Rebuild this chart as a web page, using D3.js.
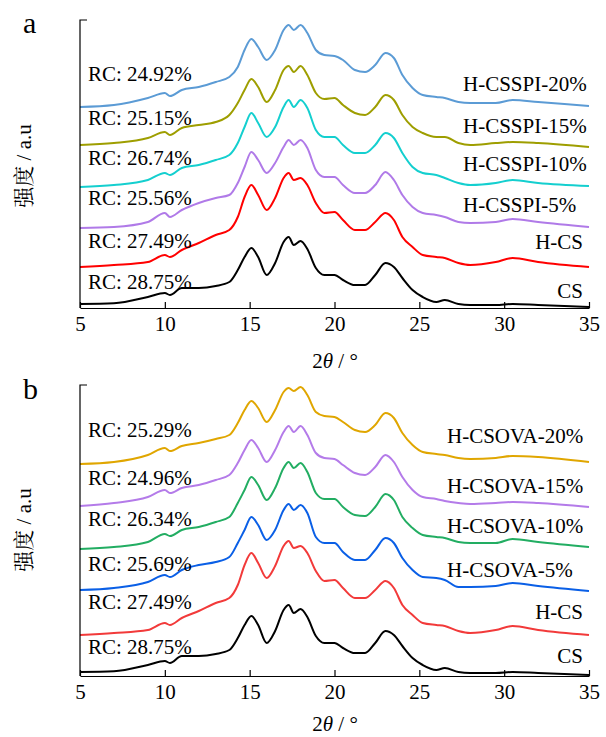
<!DOCTYPE html>
<html><head><meta charset="utf-8">
<script src="https://cdn.jsdelivr.net/npm/d3@7"></script>
<style>
body{margin:0;background:#fff}
svg text{font-family:"Liberation Serif","Noto Serif CJK SC","Tinos",serif;fill:#000}
</style>
</head><body>
<svg id="c" width="606" height="737"></svg>
<script>
// 2θ sampling positions (degrees)
const twoTheta = [5,7,9,10,10.3,11,12,13,13.8,14.3,14.7,15.1,15.5,16,16.5,17,17.3,17.6,18,18.4,18.9,19.4,20,20.5,21.2,21.8,22.4,23,23.5,24,24.6,25.2,26,26.5,27.3,28,29.5,30.5,32,35];

// intensities (a.u., stacked) — panel a
const cs    = [4,4.7,11,15,13,20,20,22,26,38,51,60,51,33,45,66,71,63,67,59,40,33,33,28,23,23,33,45,41,30,18,11,6,8,4,3,3,4,3,1];
const hcs   = [41,43,46,53,51,58,65,73,78,91,111,123,113,98,110,130,135,128,130,123,105,95,96,88,78,78,86,95,88,71,61,53,51,50,45,43,46,50,46,41];
const spi5  = [80,81,86,95,91,98,105,110,113,125,141,156,148,135,145,161,168,163,168,160,138,131,131,123,115,115,123,136,128,113,101,95,93,91,86,85,86,89,86,81];
const spi10 = [121,123,128,135,133,140,143,148,153,165,181,195,185,171,181,201,208,201,208,200,178,171,171,163,155,155,163,175,170,155,141,135,133,130,125,123,125,128,125,122];
const spi15 = [163,165,170,176,173,180,183,186,193,205,218,229,221,206,218,238,242,236,242,233,215,209,210,203,195,193,201,213,208,193,181,175,171,171,165,163,165,166,165,161];
const spi20 = [201,203,210,215,212,218,221,226,231,241,258,269,261,248,258,278,283,278,283,275,258,253,252,248,238,236,243,255,250,233,220,213,211,210,206,205,205,208,206,202];

// panel b
const ova5  = [86,88,94,101,99,106,111,114,119,133,146,159,151,136,146,166,172,166,171,163,139,133,133,124,116,116,126,138,133,118,106,99,98,96,89,89,90,93,90,85];
const ova10 = [127,129,134,142,140,146,149,154,159,173,186,199,191,176,188,208,214,208,213,204,183,177,177,169,161,160,169,182,176,159,148,141,139,138,134,133,133,137,134,129];
const ova15 = [170,173,179,186,183,188,191,196,201,213,226,236,228,214,226,244,250,244,250,241,223,218,217,211,203,201,209,221,214,199,186,179,177,175,173,172,173,174,173,169];
const ova20 = [212,214,221,228,225,230,233,237,241,253,266,275,268,254,266,284,288,285,289,281,264,260,259,254,246,244,251,263,258,243,231,224,222,221,218,217,218,220,219,214];

const namesA = ["CS","H-CS","H-CSSPI-5%","H-CSSPI-10%","H-CSSPI-15%","H-CSSPI-20%"];
const rcA    = ["28.75%","27.49%","25.56%","26.74%","25.15%","24.92%"];
const namesB = ["CS","H-CS","H-CSOVA-5%","H-CSOVA-10%","H-CSOVA-15%","H-CSOVA-20%"];
const rcB    = ["28.75%","27.49%","25.69%","26.34%","24.96%","25.29%"];
const xTicks = [5,10,15,20,25,30,35];

const colorsA = ["#000000","#ff0000","#b07ae8","#14cfcf","#9e9e00","#5b9bd5"];
const colorsB = ["#000000","#f23a3a","#0a5fe6","#22ad62","#b47be9","#e0a600"];

const svg = d3.select("#c");

const panels = [
  {letter:"a", series:[cs,hcs,spi5,spi10,spi15,spi20], names:namesA, rc:rcA, colors:colorsA,
   top:20, axisY:308, yMax:288, letterY:33, ytitleY:166, xtitleY:368,
   rcY:[289,248,205,165,125,81], lblY:[298,249,212,171,133,91], longX:463},
  {letter:"b", series:[cs,hcs,ova5,ova10,ova15,ova20], names:namesB, rc:rcB, colors:colorsB,
   top:385, axisY:676, yMax:291, letterY:399, ytitleY:530, xtitleY:731,
   rcY:[654,609,571,526,485,437], lblY:[663,619,577,533,493,443], longX:447}
];

const L = 80, R = 589;
const x = d3.scaleLinear().domain([5,35]).range([L,R]);

panels.forEach(p => {
  const y = d3.scaleLinear().domain([0,p.yMax]).range([p.axisY,p.top]);
  const g = svg.append("g");
  const line = d3.line().x((d,i)=>x(twoTheta[i])).y(d=>y(d)).curve(d3.curveMonotoneX);

  p.series.forEach((s,k) => {
    g.append("path").attr("d", line(s)).attr("fill","none")
      .attr("stroke", p.colors[k]).attr("stroke-width", 2).attr("stroke-linejoin","round");
  });

  // y axis line with top tick
  g.append("path").attr("d", `M${L+7},${p.top}H${L}V${p.axisY}`)
    .attr("fill","none").attr("stroke","#000").attr("stroke-width",1.2);

  // x axis
  const ax = g.append("g").attr("transform",`translate(0,${p.axisY})`)
    .call(d3.axisBottom(x).tickValues(xTicks).tickFormat(d3.format("d"))
      .tickSizeInner(-6).tickSizeOuter(0).tickPadding(8));
  ax.attr("font-family", null);
  ax.select(".domain").attr("stroke","#000").attr("stroke-width",1.2);
  ax.selectAll(".tick line").attr("stroke","#000").attr("stroke-width",1.2);
  ax.selectAll(".tick text").attr("font-size",21).attr("fill","#000");

  // RC labels
  p.rc.forEach((t,k) => {
    g.append("text").attr("x",88).attr("y",p.rcY[k]).attr("font-size",21).text("RC: " + t);
  });
  // sample labels
  p.names.forEach((t,k) => {
    const long = t.length > 4;
    g.append("text").attr("x", long ? p.longX : 583).attr("y", p.lblY[k])
      .attr("text-anchor", long ? "start" : "end").attr("font-size",21).text(t);
  });

  // panel letter
  g.append("text").attr("x",23).attr("y",p.letterY).attr("font-size",30).text(p.letter);

  // y title
  g.append("text").attr("transform",`translate(31,${p.ytitleY}) rotate(-90)`)
    .attr("text-anchor","middle").attr("font-size",21)
    .text("强度 / a.u");

  // x title
  const xt = g.append("text").attr("x",335).attr("y",p.xtitleY).attr("text-anchor","middle").attr("font-size",21);
  xt.append("tspan").text("2");
  xt.append("tspan").attr("font-style","italic").text("θ");
  xt.append("tspan").text(" / °");
});
</script>
</body></html>
